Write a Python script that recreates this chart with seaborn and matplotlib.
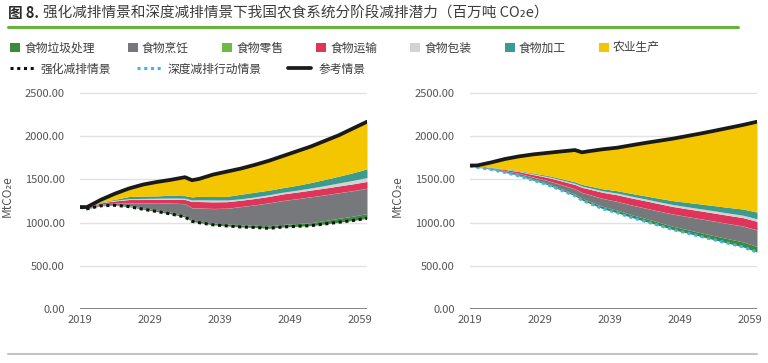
import numpy as np
import matplotlib
matplotlib.use("Agg")
import matplotlib.pyplot as plt
import seaborn as sns
from matplotlib.lines import Line2D
from matplotlib.patches import Patch

# ---------------- data (MtCO2e) ----------------
years = [2019, 2020, 2022, 2024, 2026, 2028, 2030, 2032, 2034, 2035, 2036, 2038,
         2040, 2042, 2044, 2046, 2048, 2050, 2052, 2054, 2056, 2058, 2060]

series_names = ["食物垃圾处理", "食物烹饪", "食物零售", "食物运输", "食物包装", "食物加工", "农业生产"]
line_names = ["强化减排情景", "深度减排行动情景", "参考情景"]

# left panel: intensified scenario
left_reference = [1180, 1180, 1265, 1335, 1395, 1440, 1470, 1495, 1525, 1490, 1505, 1555,
                  1590, 1625, 1668, 1715, 1770, 1825, 1880, 1945, 2010, 2088, 2165]
left_scenario = [1180, 1160, 1195, 1200, 1185, 1155, 1128, 1100, 1065, 1015, 1000, 975,
                 962, 950, 945, 935, 950, 958, 965, 985, 1005, 1025, 1050]
left_waste = [0, 5, 5, 7, 10, 13, 17, 18, 17, 20, 20, 20, 25, 25, 25, 27, 30, 32, 35, 40, 45, 50, 55]
left_cooking = [0, 10, 15, 18, 30, 57, 85, 107, 136, 135, 148, 167, 178, 210, 235, 266, 275, 285,
                298, 295, 295, 293, 291]
left_retail = [0, 0, 1, 1, 2, 2, 2, 2, 2, 2, 2, 2, 2, 2, 2, 2, 2, 2, 2, 2, 2, 2, 2]
left_transport = [0, 3, 13, 25, 40, 40, 38, 43, 47, 72, 74, 76, 75, 72, 72, 73, 75, 76, 76, 77,
                  77, 78, 78]
left_packaging = [0, 1, 4, 8, 10, 13, 12, 15, 15, 18, 20, 22, 20, 17, 18, 20, 20, 22, 25, 30,
                  35, 40, 45]
left_processing = [0, 1, 6, 10, 25, 27, 27, 32, 30, 35, 40, 40, 42, 52, 55, 52, 52, 56, 62, 70,
                   78, 88, 100]
left_agriculture = [0, 0, 27, 67, 95, 135, 163, 180, 215, 195, 203, 255, 288, 299, 318, 342,
                    368, 396, 419, 448, 475, 514, 546]

# right panel: deep scenario
right_reference = [1660, 1660, 1695, 1735, 1765, 1788, 1805, 1822, 1838, 1812, 1825, 1848,
                   1865, 1893, 1920, 1945, 1970, 2000, 2030, 2062, 2095, 2128, 2165]
right_scenario = [1655, 1640, 1615, 1580, 1540, 1490, 1440, 1376, 1310, 1260, 1225, 1160,
                  1115, 1062, 1016, 968, 920, 880, 840, 800, 760, 720, 660]
right_waste = [0, 2, 4, 6, 8, 10, 12, 15, 18, 22, 24, 27, 30, 32, 34, 36, 38, 40, 43, 47, 52, 58, 65]
right_cooking = [0, 3, 8, 15, 20, 25, 35, 48, 60, 65, 75, 90, 100, 110, 118, 128, 140, 150, 160,
                 168, 175, 182, 190]
right_retail = [0, 0, 1, 1, 1, 2, 2, 2, 2, 2, 2, 2, 2, 2, 2, 2, 2, 2, 2, 2, 2, 2, 2]
right_transport = [0, 2, 6, 12, 20, 28, 35, 42, 50, 58, 62, 70, 75, 80, 83, 85, 86, 88, 90, 92,
                   94, 96, 98]
right_packaging = [0, 1, 2, 4, 6, 8, 10, 12, 14, 15, 16, 18, 20, 21, 22, 22, 23, 24, 25, 26, 27,
                   28, 30]
right_processing = [0, 1, 3, 5, 7, 9, 12, 14, 17, 19, 20, 23, 27, 31, 35, 40, 45, 50, 55, 60, 65,
                    71, 77]
right_agriculture = [5, 11, 57, 113, 164, 218, 261, 315, 369, 373, 403, 460, 498, 557, 612, 666,
                     718, 768, 817, 869, 922, 973, 1045]

y_ticks = [0, 500, 1000, 1500, 2000, 2500]
x_ticks = [2019, 2029, 2039, 2049, 2059]

colors = ["#3b8b3f", "#77787b", "#72b844", "#e0355a", "#d1d3d4", "#3a9b8e", "#f3c600"]
ref_color = "#1a1a1a"
intensive_color = "#111111"
deep_color = "#3fb4ef"

# ---------------- style ----------------
sns.set_theme(style="white")
plt.rcParams["font.family"] = ["Noto Sans CJK SC", "DejaVu Sans"]

W, H = 768, 363
fig = plt.figure(figsize=(W / 100, H / 100), dpi=100)

ax_h = 221.8
axL = fig.add_axes([80 / W, (H - 309.3) / H, 287 / W, ax_h / H])
axR = fig.add_axes([470 / W, (H - 309.3) / H, 287 / W, ax_h / H])


def draw_panel(ax, base, bands, ref, scen, scen_color):
    bottom = np.array(base, dtype=float)
    for vals, col in zip(bands, colors):
        top = bottom + np.array(vals, dtype=float)
        ax.fill_between(years, bottom, top, color=col, lw=0, zorder=2)
        bottom = top
    sns.lineplot(x=years, y=scen, ax=ax, color=scen_color, lw=2.2,
                 linestyle=(0, (1, 1.2)), zorder=4)
    sns.lineplot(x=years, y=ref, ax=ax, color=ref_color, lw=2.7,
                 solid_capstyle="round", solid_joinstyle="round", zorder=5)
    ax.set_xlim(2019, 2060)
    ax.set_ylim(0, 2560)
    ax.set_yticks(y_ticks)
    ax.set_yticklabels([f"{v:.2f}" for v in y_ticks])
    ax.set_xticks(x_ticks)
    ax.set_xticklabels([str(v) for v in x_ticks])
    ax.yaxis.grid(True, color="#e2e2e2", lw=1.0, zorder=0)
    ax.xaxis.grid(False)
    for s in ax.spines.values():
        s.set_visible(False)
    ax.axhline(0, color="#7a7a7a", lw=1.3, zorder=3)
    ax.tick_params(axis="both", length=0, labelsize=8, colors="#555555")
    ax.tick_params(axis="y", pad=11)
    ax.tick_params(axis="x", pad=4)
    ax.set_ylabel("MtCO₂e", fontsize=8.5, color="#555555")
    ax.yaxis.set_label_coords(-0.23, 0.51)
    ax.set_xlabel("")


draw_panel(axL, left_scenario,
           [left_waste, left_cooking, left_retail, left_transport, left_packaging,
            left_processing, left_agriculture],
           left_reference, left_scenario, intensive_color)
draw_panel(axR, right_scenario,
           [right_waste, right_cooking, right_retail, right_transport, right_packaging,
            right_processing, right_agriculture],
           right_reference, right_scenario, deep_color)

# ---------------- title ----------------
renderer = fig.canvas.get_renderer()
ty = 1 - 13 / H
t1 = fig.text(8 / W, ty, "图 8.", fontsize=10.5, fontweight="bold", color="#2b2b2b",
              va="center", ha="left")
bb = t1.get_window_extent(renderer=renderer)
fig.text((bb.x1 + 4) / W, ty, "强化减排情景和深度减排情景下我国农食系统分阶段减排潜力（百万吨 CO₂e）",
         fontsize=10.5, color="#3c3c3c", va="center", ha="left")
fig.add_artist(Line2D([8 / W, 738 / W], [1 - 27 / H, 1 - 27 / H], color="#6ab23e", lw=2.2))
fig.add_artist(Line2D([8 / W, 757 / W], [1 - 354 / H, 1 - 354 / H], color="#c4c4c4", lw=1.5))

# ---------------- legends ----------------
patch_handles = [Patch(facecolor=c, edgecolor="none") for c in colors]
leg1 = fig.legend(patch_handles, series_names, loc="center left",
                  bbox_to_anchor=(10 / W, 1 - 48 / H), ncol=7, frameon=False,
                  fontsize=8.5, handlelength=0.85, handleheight=0.85, handletextpad=0.35,
                  columnspacing=2.8, borderpad=0, borderaxespad=0)
for t in leg1.get_texts():
    t.set_color("#3c3c3c")

line_handles = [Line2D([], [], color=intensive_color, lw=2.2, linestyle=(0, (1, 1.2))),
                Line2D([], [], color=deep_color, lw=2.2, linestyle=(0, (1, 1.2))),
                Line2D([], [], color=ref_color, lw=2.7)]
leg2 = fig.legend(line_handles, line_names, loc="center left",
                  bbox_to_anchor=(10 / W, 1 - 69 / H), ncol=3, frameon=False,
                  fontsize=8.5, handlelength=2.0, handletextpad=0.6,
                  columnspacing=2.2, borderpad=0, borderaxespad=0)
for t in leg2.get_texts():
    t.set_color("#3c3c3c")

fig.savefig("out.png", dpi=100)
